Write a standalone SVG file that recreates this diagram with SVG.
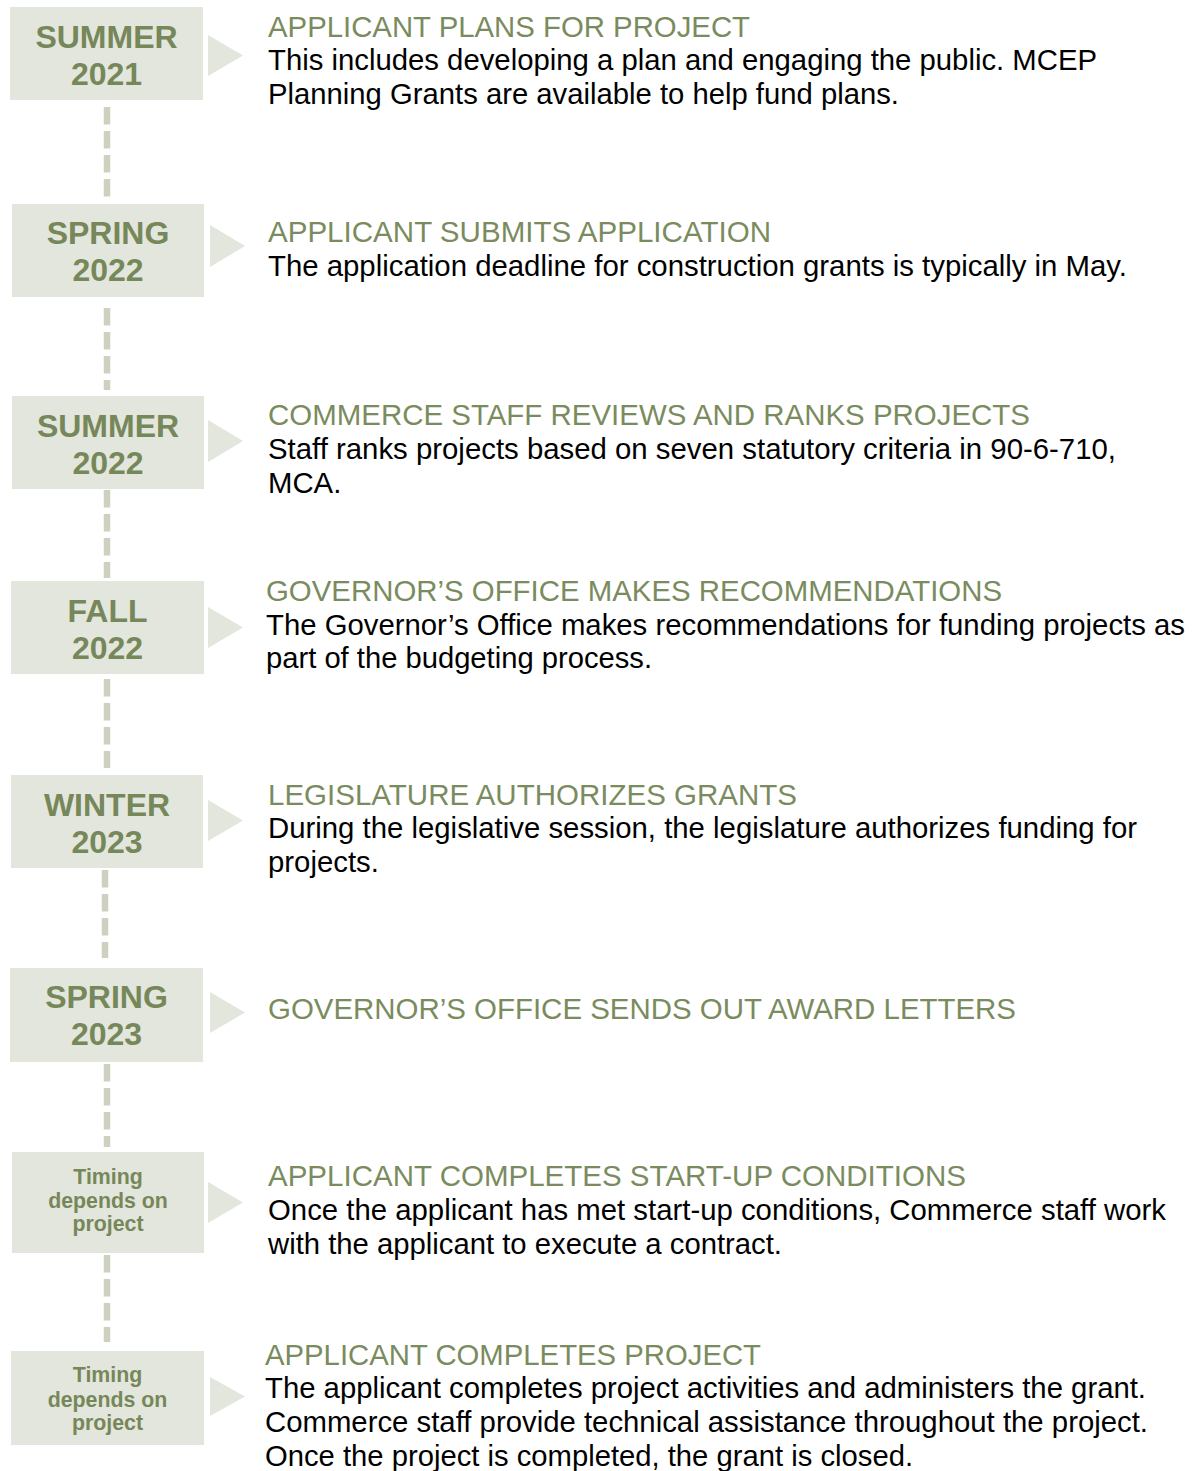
<svg xmlns="http://www.w3.org/2000/svg" width="1193" height="1471" viewBox="0 0 1193 1471">
<style>
.box{fill:#e3e6dc}
.tri{fill:#e3e6dc}
.lbl{font-family:"Liberation Sans",Arial,sans-serif;font-weight:bold;font-size:32px;fill:#76875a;text-anchor:middle}
.lbs{font-family:"Liberation Sans",Arial,sans-serif;font-weight:bold;font-size:21.33px;fill:#76875a;text-anchor:middle}
.ttl{font-family:"Liberation Sans",Arial,sans-serif;font-size:29.33px;fill:#7a8b5e}
.bdy{font-family:"Liberation Sans",Arial,sans-serif;font-size:29.33px;fill:#000}
.dash{stroke:#cdd2c0;stroke-width:6.5;stroke-dasharray:17.5 6.5;fill:none}
</style>
<rect width="1193" height="1471" fill="#fff"/>
<g id="connectors">
<line class="dash" x1="107" y1="107" x2="107" y2="197"/>
<line class="dash" x1="107" y1="308" x2="107" y2="390"/>
<line class="dash" x1="107" y1="490" x2="107" y2="578"/>
<line class="dash" x1="107" y1="679" x2="107" y2="768"/>
<line class="dash" x1="105" y1="870" x2="105" y2="958"/>
<line class="dash" x1="107" y1="1064" x2="107" y2="1147"/>
<line class="dash" x1="107" y1="1255" x2="107" y2="1342"/>
</g>
<g id="step1">
<rect class="box" x="10" y="7" width="193" height="93"/>
<text class="lbl" x="106.5" y="47.5">SUMMER</text>
<text class="lbl" x="106.5" y="84.5">2021</text>
<polygon class="tri" points="208,35 243,55.5 208,76"/>
<text class="ttl" x="268" y="37" textLength="482" lengthAdjust="spacingAndGlyphs">APPLICANT PLANS FOR PROJECT</text>
<text class="bdy" x="268" y="70" textLength="829" lengthAdjust="spacingAndGlyphs">This includes developing a plan and engaging the public. MCEP</text>
<text class="bdy" x="268" y="104" textLength="631" lengthAdjust="spacingAndGlyphs">Planning Grants are available to help fund plans.</text>
</g>
<g id="step2">
<rect class="box" x="12" y="204" width="192" height="93"/>
<text class="lbl" x="108" y="243.5">SPRING</text>
<text class="lbl" x="108" y="281">2022</text>
<polygon class="tri" points="210,225 245,246 210,267"/>
<text class="ttl" x="268" y="242" textLength="503" lengthAdjust="spacingAndGlyphs">APPLICANT SUBMITS APPLICATION</text>
<text class="bdy" x="268" y="276" textLength="859" lengthAdjust="spacingAndGlyphs">The application deadline for construction grants is typically in May.</text>
</g>
<g id="step3">
<rect class="box" x="12" y="396" width="192" height="93"/>
<text class="lbl" x="108" y="436.5">SUMMER</text>
<text class="lbl" x="108" y="473.5">2022</text>
<polygon class="tri" points="208,420 243,441 208,462"/>
<text class="ttl" x="268" y="425" textLength="762" lengthAdjust="spacingAndGlyphs">COMMERCE STAFF REVIEWS AND RANKS PROJECTS</text>
<text class="bdy" x="268" y="459" textLength="848" lengthAdjust="spacingAndGlyphs">Staff ranks projects based on seven statutory criteria in 90-6-710,</text>
<text class="bdy" x="268" y="493">MCA.</text>
</g>
<g id="step4">
<rect class="box" x="11" y="581" width="193" height="93"/>
<text class="lbl" x="107.5" y="621.5">FALL</text>
<text class="lbl" x="107.5" y="659">2022</text>
<polygon class="tri" points="208,607 243,627.5 208,648"/>
<text class="ttl" x="266" y="601" textLength="736" lengthAdjust="spacingAndGlyphs">GOVERNOR’S OFFICE MAKES RECOMMENDATIONS</text>
<text class="bdy" x="266" y="635" textLength="919" lengthAdjust="spacingAndGlyphs">The Governor’s Office makes recommendations for funding projects as</text>
<text class="bdy" x="266" y="668" textLength="386" lengthAdjust="spacingAndGlyphs">part of the budgeting process.</text>
</g>
<g id="step5">
<rect class="box" x="11" y="775" width="192" height="93"/>
<text class="lbl" x="107" y="815.5">WINTER</text>
<text class="lbl" x="107" y="853">2023</text>
<polygon class="tri" points="208,800 243,820.5 208,841"/>
<text class="ttl" x="268" y="805" textLength="529" lengthAdjust="spacingAndGlyphs">LEGISLATURE AUTHORIZES GRANTS</text>
<text class="bdy" x="268" y="838" textLength="869" lengthAdjust="spacingAndGlyphs">During the legislative session, the legislature authorizes funding for</text>
<text class="bdy" x="268" y="872">projects.</text>
</g>
<g id="step6">
<rect class="box" x="10" y="968" width="193" height="94"/>
<text class="lbl" x="106.5" y="1007.5">SPRING</text>
<text class="lbl" x="106.5" y="1045">2023</text>
<polygon class="tri" points="210,992 245,1012.5 210,1033"/>
<text class="ttl" x="268" y="1019" textLength="748" lengthAdjust="spacingAndGlyphs">GOVERNOR’S OFFICE SENDS OUT AWARD LETTERS</text>
</g>
<g id="step7">
<rect class="box" x="12" y="1152" width="192" height="101"/>
<text class="lbs" x="108" y="1184">Timing</text>
<text class="lbs" x="108" y="1207.5">depends on</text>
<text class="lbs" x="108" y="1231">project</text>
<polygon class="tri" points="208,1182 243,1202.5 208,1223"/>
<text class="ttl" x="268" y="1186" textLength="698" lengthAdjust="spacingAndGlyphs">APPLICANT COMPLETES START-UP CONDITIONS</text>
<text class="bdy" x="268" y="1220" textLength="898" lengthAdjust="spacingAndGlyphs">Once the applicant has met start-up conditions, Commerce staff work</text>
<text class="bdy" x="268" y="1254" textLength="514" lengthAdjust="spacingAndGlyphs">with the applicant to execute a contract.</text>
</g>
<g id="step8">
<rect class="box" x="11" y="1351" width="193" height="94"/>
<text class="lbs" x="107.5" y="1382">Timing</text>
<text class="lbs" x="107.5" y="1406.5">depends on</text>
<text class="lbs" x="107.5" y="1430">project</text>
<polygon class="tri" points="210,1377 245,1396.5 210,1416"/>
<text class="ttl" x="265" y="1365" textLength="496" lengthAdjust="spacingAndGlyphs">APPLICANT COMPLETES PROJECT</text>
<text class="bdy" x="265" y="1398" textLength="881" lengthAdjust="spacingAndGlyphs">The applicant completes project activities and administers the grant.</text>
<text class="bdy" x="265" y="1432" textLength="883" lengthAdjust="spacingAndGlyphs">Commerce staff provide technical assistance throughout the project.</text>
<text class="bdy" x="265" y="1466" textLength="648" lengthAdjust="spacingAndGlyphs">Once the project is completed, the grant is closed.</text>
</g>
</svg>
